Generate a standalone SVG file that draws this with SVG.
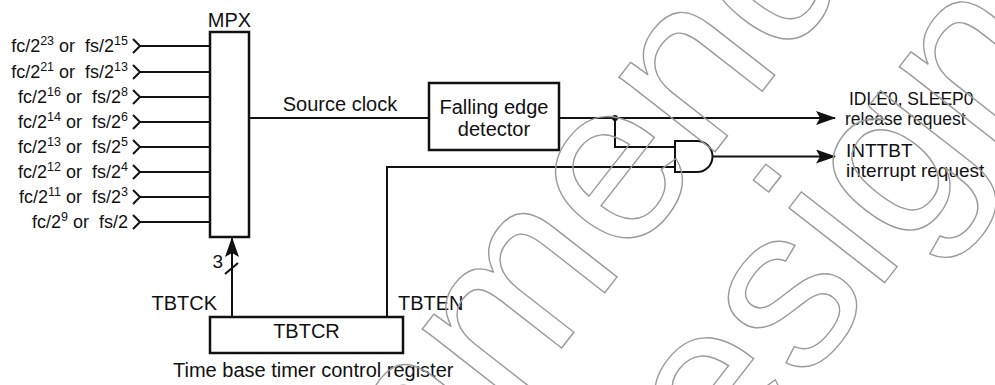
<svg xmlns="http://www.w3.org/2000/svg" width="995" height="385" viewBox="0 0 995 385">
<defs>
<style>
.ln{fill:none;stroke:#111;stroke-width:2}
.bx{fill:#fff;stroke:#111;stroke-width:2.5}
.t{font-family:"Liberation Sans",Arial,sans-serif;fill:#111}
.t20{font-size:20px}
.lab{font-size:18px}
.sup{font-size:12.5px}
.wm{font-family:"Liberation Sans",Arial,sans-serif;font-size:230px;fill:none;stroke:#9a9a9a;stroke-width:1.4}
</style>
<marker id="ah" viewBox="0 0 20 14" refX="19" refY="7" markerWidth="20" markerHeight="14" markerUnits="userSpaceOnUse" orient="auto">
<path d="M20,7 L0,0 L4,7 L0,14 Z" fill="#111"/>
</marker>
</defs>
<rect width="995" height="385" fill="#fff"/>

<g id="connectors">
<g id="inputs" class="ln">
<path d="M139,46H210M133,39L140,46L133,53"/>
<path d="M139,72H210M133,65L140,72L133,79"/>
<path d="M139,97H210M133,90L140,97L133,104"/>
<path d="M139,122H210M133,115L140,122L133,129"/>
<path d="M139,147H210M133,140L140,147L133,154"/>
<path d="M139,172H210M133,165L140,172L133,179"/>
<path d="M139,197H210M133,190L140,197L133,204"/>
<path d="M139,222H210M133,215L140,222L133,229"/>
</g>
<path class="ln" d="M249,118H429"/>
<path class="ln" d="M559,118H835" marker-end="url(#ah)"/>
<circle cx="615" cy="118" r="3" fill="#111"/>
<path class="ln" d="M615,118V147H675"/>
<path class="ln" d="M387,317V167H675"/>
<path class="ln" d="M712,156.5H835" marker-end="url(#ah)"/>
<path class="ln" d="M232,317V238" marker-end="url(#ah)"/>
<path class="ln" d="M225,274L238,263"/>
</g>

<g id="mpx">
<rect class="bx" x="210" y="32" width="39" height="205"/>
<text class="t t20" x="229.5" y="27" text-anchor="middle">MPX</text>
</g>

<g id="input-labels" class="t lab" text-anchor="end">
<text x="128" y="52" xml:space="preserve">fc/2<tspan class="sup" dy="-7">23</tspan><tspan dy="7"> or  fs/2</tspan><tspan class="sup" dy="-7">15</tspan></text>
<text x="128" y="78" xml:space="preserve">fc/2<tspan class="sup" dy="-7">21</tspan><tspan dy="7"> or  fs/2</tspan><tspan class="sup" dy="-7">13</tspan></text>
<text x="128" y="103" xml:space="preserve">fc/2<tspan class="sup" dy="-7">16</tspan><tspan dy="7"> or  fs/2</tspan><tspan class="sup" dy="-7">8</tspan></text>
<text x="128" y="128" xml:space="preserve">fc/2<tspan class="sup" dy="-7">14</tspan><tspan dy="7"> or  fs/2</tspan><tspan class="sup" dy="-7">6</tspan></text>
<text x="128" y="153" xml:space="preserve">fc/2<tspan class="sup" dy="-7">13</tspan><tspan dy="7"> or  fs/2</tspan><tspan class="sup" dy="-7">5</tspan></text>
<text x="128" y="178" xml:space="preserve">fc/2<tspan class="sup" dy="-7">12</tspan><tspan dy="7"> or  fs/2</tspan><tspan class="sup" dy="-7">4</tspan></text>
<text x="128" y="203" xml:space="preserve">fc/2<tspan class="sup" dy="-7">11</tspan><tspan dy="7"> or  fs/2</tspan><tspan class="sup" dy="-7">3</tspan></text>
<text x="128" y="228" xml:space="preserve">fc/2<tspan class="sup" dy="-7">9</tspan><tspan dy="7"> or  fs/2</tspan></text>
</g>

<g id="source-clock-label">
<text class="t t20" x="340" y="111" text-anchor="middle">Source clock</text>
</g>

<g id="falling-edge-detector">
<rect class="bx" x="429" y="83" width="130" height="67"/>
<text class="t t20" x="494" y="114" text-anchor="middle">Falling edge</text>
<text class="t t20" x="494" y="136" text-anchor="middle">detector</text>
</g>

<g id="and-gate">
<path class="bx" style="stroke-width:2" d="M675,141H697A15.5,15.5 0 0 1 697,172H675Z"/>
</g>

<g id="tbtcr">
<rect class="bx" x="210" y="317" width="193" height="36"/>
<text class="t t20" x="306.5" y="338" text-anchor="middle">TBTCR</text>
<text class="t t20" x="217" y="310" text-anchor="end">TBTCK</text>
<text class="t t20" x="398" y="310">TBTEN</text>
<text class="t t20" x="173" y="377">Time base timer control register</text>
<text class="t" style="font-size:19px" x="223" y="268" text-anchor="end">3</text>
</g>

<g id="out-idle">
<text class="t" style="font-size:17.5px" x="849" y="105">IDLE0, SLEEP0</text>
<text class="t" style="font-size:17.5px" x="845" y="125">release request</text>
</g>

<g id="out-inttbt">
<text class="t" style="font-size:19px" x="846" y="157">INTTBT</text>
<text class="t" style="font-size:19px" x="846" y="177">interrupt request</text>
</g>

<g id="watermark" class="wm">
<text transform="translate(60,990) rotate(-52)">Recommended</text>
<text transform="translate(647,587) rotate(-52)">design</text>
</g>
</svg>
